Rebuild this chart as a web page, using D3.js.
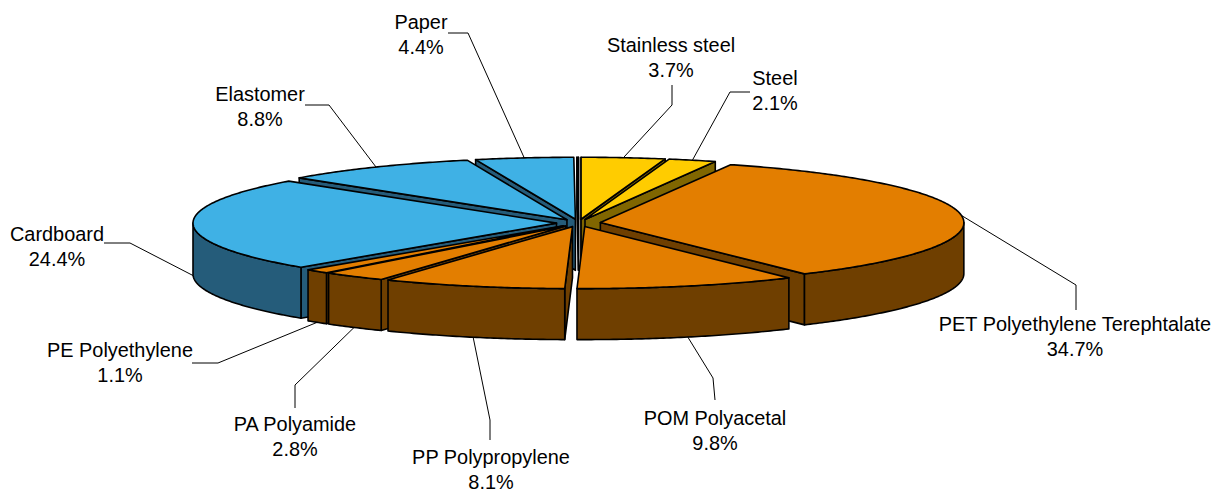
<!DOCTYPE html>
<html>
<head>
<meta charset="utf-8">
<script src="https://cdn.jsdelivr.net/npm/d3@7"></script>
<style>
  body { margin: 0; background: #fff; }
  text { font-family: "Liberation Sans", Arial, sans-serif; font-size: 19.9px; fill: #000; }
</style>
</head>
<body>
<div id="chart"></div>
<script>
// last entry is the unlabelled sliver that closes the pie at 12 o'clock
const materials = ["Stainless steel", "Steel", "PET Polyethylene Terephtalate", "POM Polyacetal",
  "PP Polypropylene", "PA Polyamide", "PE Polyethylene", "Cardboard", "Elastomer", "Paper", ""]
const shares = [3.72, 2.12, 34.71, 9.84, 8.14, 2.84, 1.1, 24.44, 8.76, 4.36, 0.07]
const groups = ["yellow", "yellow", "orange", "orange", "orange", "orange", "orange", "blue", "blue", "blue", "blue"]

// label placement: text centre, elbow of the leader, where the leader leaves the text
const labelCentre = [[671, 46], [775, 79], [1075, 325], [715, 419], [491, 458], [295, 425], [120, 351], [57, 235], [260, 95], [421, 23]]
const labelElbow = [[672, 105], [730, 92], [1076, 285], [713, 378], [490, 420], [295, 385], [218, 363], [130, 243], [329, 105], [468, 33]]
const labelStart = [[672, 85], [750, 92], [1076, 310], [715, 400], [490, 440], [295, 408], [192, 363], [104, 243], [305, 105], [448, 33]]

const topColor = {yellow: "#ffcc00", orange: "#e37e00", blue: "#3fb1e5"}
const sideColor = {yellow: "#806600", orange: "#6f3f00", blue: "#255c7a"}

const width = 1217
const height = 491
const cx = 578.5
const cy = 223
const rx = 363.5
const ry = 62
const depth = 51
const explode = 22

const svg = d3.select("#chart").append("svg")
  .attr("width", width)
  .attr("height", height)
  .style("display", "block")

const slices = d3.pie().sort(null).value(d => d)(shares)
slices.forEach((s, i) => {
  s.i = i
  s.mid = (s.startAngle + s.endAngle) / 2
  s.apex = [cx + explode * Math.sin(s.mid), cy - explode * ry / rx * Math.cos(s.mid)]
})

function rim(s, a, dy = 0) {
  return [s.apex[0] + rx * Math.sin(a), s.apex[1] - ry * Math.cos(a) + dy]
}

function arcPoints(s, a0, a1, dy) {
  const n = Math.max(2, Math.ceil((a1 - a0) / 0.01))
  return d3.range(n + 1).map(k => rim(s, a0 + (a1 - a0) * k / n, dy))
}

const line = d3.line()
const closed = pts => line(pts) + "Z"

function face(pts, fill) {
  svg.append("path")
    .attr("d", closed(pts))
    .attr("fill", fill)
    .attr("stroke", "#000")
    .attr("stroke-width", 1.6)
    .attr("stroke-linejoin", "round")
}

function radialWall(s, a, fill) {
  const p = rim(s, a)
  const q = rim(s, a, depth)
  face([s.apex, p, q, [s.apex[0], s.apex[1] + depth]], fill)
}

// back slices first, front slices painted over them
const order = slices.slice().sort((a, b) => d3.descending(Math.cos(a.mid), Math.cos(b.mid)))

order.forEach(s => {
  const side = sideColor[groups[s.i]]
  if (Math.sin(s.startAngle) <= 0.001) radialWall(s, s.startAngle, side)
  if (Math.sin(s.endAngle) >= -0.001) radialWall(s, s.endAngle, side)

  const a0 = Math.max(s.startAngle, Math.PI / 2)
  const a1 = Math.min(s.endAngle, Math.PI * 1.5)
  if (a1 > a0) {
    face(arcPoints(s, a0, a1, 0).concat(arcPoints(s, a0, a1, depth).reverse()), side)
  }
  face([s.apex].concat(arcPoints(s, s.startAngle, s.endAngle, 0)), topColor[groups[s.i]])
})

// leaders and labels
slices.filter(s => materials[s.i]).forEach(s => {
  const front = s.mid > Math.PI / 2 && s.mid < Math.PI * 1.5
  const end = rim(s, s.mid, front ? depth : 0)
  svg.append("path")
    .attr("d", line([labelStart[s.i], labelElbow[s.i], end]))
    .attr("fill", "none")
    .attr("stroke", "#000")
    .attr("stroke-width", 1)

  const label = svg.append("text")
    .attr("text-anchor", "middle")
    .attr("x", labelCentre[s.i][0])
    .attr("y", labelCentre[s.i][1] + 6)
  label.append("tspan").text(materials[s.i])
  label.append("tspan")
    .attr("x", labelCentre[s.i][0])
    .attr("dy", 24.5)
    .text(d3.format(".1f")(s.value) + "%")
})
</script>
</body>
</html>
